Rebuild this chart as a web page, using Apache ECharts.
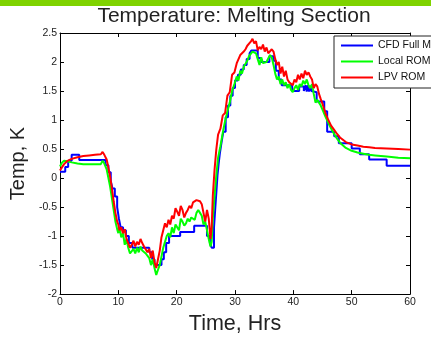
<!DOCTYPE html>
<html>
<head>
<meta charset="utf-8">
<script src="https://cdn.jsdelivr.net/npm/echarts@6/dist/echarts.min.js"></script>
<style>html,body{margin:0;padding:0;background:#fff;}#c{width:431px;height:340px;}</style>
</head>
<body>
<div id="c"></div>
<script>
// ---- data ----
const seriesNames = ['CFD Full Model', 'Local ROM', 'LPV ROM'];
const xTicks = [0, 10, 20, 30, 40, 50, 60];
const yTicks = [-2, -1.5, -1, -0.5, 0, 0.5, 1, 1.5, 2, 2.5];

// CFD Full Model (stepwise)
const blueT = [0,0.9,1.4,2.0,3.3, 7.8,8.3,8.7,9.0,9.4, 9.8,10.1,10.4,10.8,11.3, 11.8,12.4,15.3,15.8,16.2,
  17.4,17.8,18.2,18.7,20.6, 23.0,25.2,25.7,26.0,26.4, 26.6,26.8,27.0,27.2,27.4, 27.7,28.0,28.4,28.8,29.2,
  29.6,30.0,30.5,31.0,31.5, 32.0,32.5,32.8,33.9,34.4, 35.9,36.6,37.0,37.5,38.0, 39.8,41.0,41.8,42.1,42.3,
  42.5,42.7,42.9,43.1,43.4, 44.0,45.3,45.8,47.0,47.8, 50.0,51.4,53.0,56.0,60];
const blueV = [0.11,0.19,0.30,0.40,0.31, 0.22,0.10,-0.05,-0.18,-0.32, -0.50,-0.70,-0.85,-0.90,-1.0, -1.12,-1.20,-1.28,-1.40,-1.50,
  -1.40,-1.28,-1.12,-1.0,-0.93, -0.82,-1.0,-1.12,-1.20,-0.85, -0.55,-0.25,0.05,0.25,0.42, 0.62,0.80,1.05,1.25,1.42,
  1.55,1.68,1.78,1.87,1.95, 2.05,2.15,2.20,2.07,2.0, 2.10,2.02,1.85,1.70,1.60, 1.50,1.58,1.50,1.60,1.49,
  1.60,1.49,1.59,1.50,1.48, 1.32,1.15,0.80,0.72,0.60, 0.51,0.41,0.32,0.21,0.21];

// shared time grid for the two ROM curves
const romT = [0,0.3,0.7,1.2,2, 3,4,5,6,7, 7.3,7.6,7.8,8.0,8.3, 8.6,8.9,9.2,9.5,9.8,
  10.0,10.2,10.5,10.8,11.1, 11.4,11.7,12.0,12.3,12.6, 12.9,13.2,13.5,13.8,14.1, 14.4,14.7,15.0,15.3,15.6,
  15.9,16.2,16.5,16.8,17.1, 17.4,17.7,18.0,18.3,18.6, 18.9,19.2,19.5,19.8,20.1, 20.4,20.7,21.0,21.3,21.6,
  21.9,22.2,22.5,22.8,23.1, 23.4,23.7,24.0,24.3,24.6, 24.9,25.2,25.5,25.8,26.0, 26.2,26.5,26.8,27.1,27.5,
  27.9,28.3,28.7,29.1,29.5, 29.9,30.3,30.6,30.9,31.2, 31.5,31.8,32.1,32.4,32.7, 33.0,33.3,33.6,33.9,34.2,
  34.5,34.8,35.1,35.4,35.7, 36.0,36.3,36.6,36.9,37.2, 37.5,37.8,38.1,38.4,38.7, 39.0,39.3,39.6,39.9,40.2,
  40.5,40.8,41.1,41.4,41.7, 42.0,42.3,42.6,42.9,43.2, 43.5,43.8,44.1,44.4,44.7, 45.0,45.5,46.0,46.5,47.0,
  47.5,48,49,50,51, 52,53,54,56,58, 60];

// Local ROM
const greenV = [0.20,0.26,0.30,0.29,0.27, 0.25,0.24,0.24,0.24,0.24, 0.30,0.25,0.22,0.15,0.0, -0.15,-0.35,-0.55,-0.75,-0.88,
  -0.95,-0.85,-1.02,-0.95,-1.15, -1.05,-1.20,-1.30,-1.28,-1.22, -1.30,-1.20,-1.28,-1.18,-1.25, -1.22,-1.30,-1.28,-1.38,-1.50,
  -1.40,-1.55,-1.67,-1.58,-1.50, -1.35,-1.20,-1.10,-1.00,-0.95, -1.02,-0.85,-0.95,-0.80,-0.78, -0.90,-0.70,-0.75,-0.82,-0.78,
  -0.70,-0.75,-0.68,-0.65,-0.72, -0.60,-0.55,-0.60,-0.65,-0.80, -0.75,-0.90,-1.05,-1.18,-1.10, -0.70,-0.30,0.05,0.35,0.55,
  0.78,0.98,1.15,1.30,1.50, 1.62,1.75,1.68,1.85,1.80, 1.92,1.95,2.02,2.10,2.12, 2.18,2.20,2.15,2.05,1.95,
  2.08,1.98,1.96,2.00,2.02, 2.12,2.08,1.95,1.80,1.70, 1.75,1.62,1.70,1.60,1.65, 1.55,1.62,1.52,1.48,1.55,
  1.60,1.52,1.62,1.58,1.68, 1.62,1.70,1.60,1.55,1.62, 1.45,1.30,1.35,1.30,1.25, 1.18,1.06,0.95,0.85,0.76,
  0.68,0.61,0.52,0.47,0.44, 0.42,0.40,0.39,0.37,0.35, 0.34];

// LPV ROM
const redV = [0.13,0.18,0.24,0.29,0.33, 0.36,0.38,0.39,0.40,0.41, 0.45,0.40,0.43,0.32,0.18, 0.02,-0.18,-0.40,-0.60,-0.75,
  -0.80,-0.90,-0.85,-0.95,-0.88, -1.05,-1.12,-1.20,-1.15,-1.08, -1.18,-1.10,-1.15,-1.05,-1.12, -1.18,-1.15,-1.28,-1.22,-1.38,
  -1.25,-1.45,-1.55,-1.40,-1.25, -1.02,-0.90,-0.78,-0.85,-0.72, -0.80,-0.65,-0.70,-0.52,-0.58, -0.65,-0.48,-0.55,-0.68,-0.60,
  -0.55,-0.48,-0.52,-0.42,-0.45, -0.38,-0.35,-0.40,-0.45,-0.60, -0.75,-0.55,-0.70,-1.05,-0.85, -0.30,0.15,0.50,0.75,0.85,
  1.08,1.12,1.42,1.48,1.78, 1.82,1.98,1.95,2.12,2.10, 2.18,2.22,2.28,2.25,2.35, 2.40,2.32,2.36,2.20,2.26,
  2.22,2.30,2.18,2.25,2.15, 2.12,2.22,2.18,2.05,1.95, 2.00,1.80,1.92,1.75,1.85, 1.70,1.65,1.68,1.60,1.70,
  1.65,1.78,1.70,1.80,1.72, 1.85,1.78,1.82,1.75,1.70, 1.55,1.62,1.58,1.45,1.36, 1.28,1.12,1.00,0.90,0.83,
  0.76,0.70,0.62,0.58,0.56, 0.54,0.53,0.52,0.51,0.50, 0.49];

// ---- chart ----
const pair = (ts, vs) => ts.map((t, i) => [t, vs[i]]);
const FONT = '"Liberation Sans", Arial, sans-serif';
const chart = echarts.init(document.getElementById('c'), null, {renderer: 'canvas'});

const xMin = xTicks[0], xMax = xTicks[xTicks.length - 1], xInt = xTicks[1] - xTicks[0];
const yMin = yTicks[0], yMax = yTicks[yTicks.length - 1], yInt = yTicks[1] - yTicks[0];

const axisCommon = {
  type: 'value',
  splitLine: {show: false},
  axisLine: {show: true, onZero: false, lineStyle: {color: '#000', width: 1}},
  axisTick: {show: true, inside: true, length: 4, lineStyle: {color: '#000', width: 1}}
};

chart.setOption({
  animation: false,
  backgroundColor: '#fff',
  title: {
    text: 'Temperature: Melting Section',
    left: 234, top: 6, padding: 0, textAlign: 'center',
    textStyle: {fontFamily: FONT, fontSize: 21, fontWeight: 'normal', color: '#222'}
  },
  graphic: [{type: 'rect', left: 0, top: 0, shape: {width: 431, height: 6}, style: {fill: '#7fd300'}, z: 10}],
  grid: {left: 59, right: 21, top: 33, bottom: 41, containLabel: false},
  legend: {
    data: seriesNames,
    orient: 'vertical',
    left: 334, top: 36,
    backgroundColor: '#fff',
    borderColor: '#222', borderWidth: 1,
    padding: [4, 10, 5, 7],
    itemWidth: 32, itemHeight: 2, itemGap: 5,
    icon: 'rect',
    textStyle: {fontFamily: FONT, fontSize: 10.5, color: '#111', lineHeight: 10},
    z: 10
  },
  xAxis: [
    Object.assign({}, axisCommon, {
      position: 'bottom', min: xMin, max: xMax, interval: xInt,
      axisLabel: {margin: 3, fontFamily: FONT, fontSize: 10.5, color: '#222'},
      name: 'Time, Hrs', nameLocation: 'middle', nameGap: 16,
      nameTextStyle: {fontFamily: FONT, fontSize: 21.5, color: '#222'}
    }),
    Object.assign({}, axisCommon, {
      position: 'top', min: xMin, max: xMax, interval: xInt, axisLabel: {show: false}
    })
  ],
  yAxis: [
    Object.assign({}, axisCommon, {
      position: 'left', min: yMin, max: yMax, interval: yInt,
      axisLabel: {margin: 3, fontFamily: FONT, fontSize: 10.5, color: '#222'},
      name: 'Temp, K', nameLocation: 'middle', nameGap: 31,
      nameTextStyle: {fontFamily: FONT, fontSize: 20, color: '#222'}
    }),
    Object.assign({}, axisCommon, {
      position: 'right', min: yMin, max: yMax, interval: yInt, axisLabel: {show: false}
    })
  ],
  series: [
    {name: seriesNames[0], type: 'line', step: 'end', data: pair(blueT, blueV), showSymbol: false, symbol: 'none',
     color: '#0000ff', lineStyle: {color: '#0000ff', width: 2}, z: 2},
    {name: seriesNames[1], type: 'line', data: pair(romT, greenV), showSymbol: false, symbol: 'none',
     color: '#00ff00', lineStyle: {color: '#00ff00', width: 2}, z: 3},
    {name: seriesNames[2], type: 'line', data: pair(romT, redV), showSymbol: false, symbol: 'none',
     color: '#ff0000', lineStyle: {color: '#ff0000', width: 2}, z: 4}
  ]
});
</script>
</body>
</html>
